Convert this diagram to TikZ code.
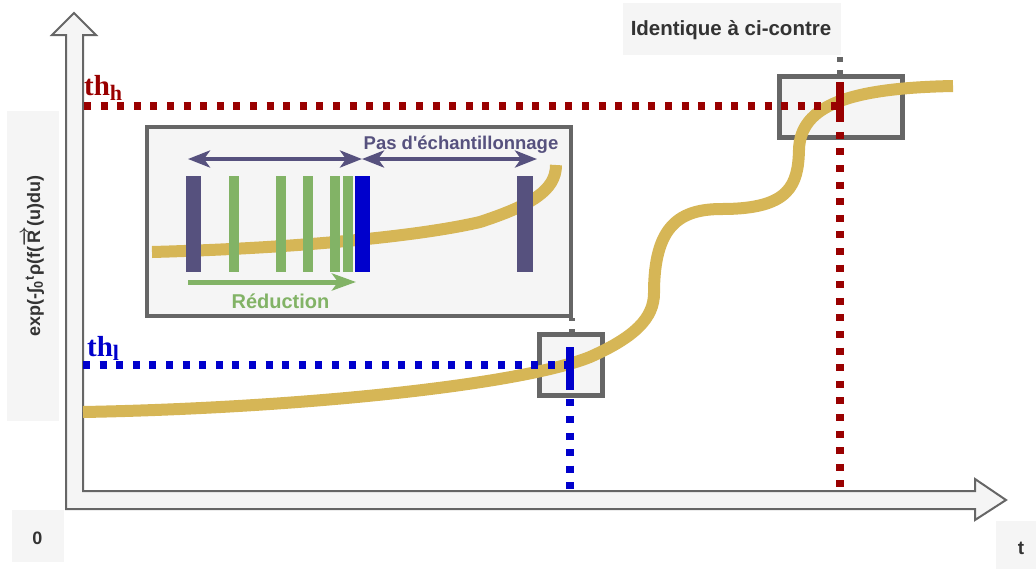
\documentclass[tikz,border=0pt]{standalone}
\usepackage{fontspec}
\setmainfont{Liberation Sans}
\newfontfamily\thfont{Liberation Serif}
\usetikzlibrary{arrows.meta}
\definecolor{cred}{HTML}{990000}
\definecolor{cblue}{HTML}{0000CC}
\definecolor{cgold}{HTML}{D6B656}
\definecolor{cpurple}{HTML}{56517E}
\definecolor{cgreen}{HTML}{82B366}
\definecolor{cstroke}{HTML}{666666}
\definecolor{cfill}{HTML}{F5F5F5}
\definecolor{ctext}{HTML}{333333}
\begin{document}
\begin{tikzpicture}[x=1pt,y=-1pt,
  lblbox/.style={fill=cfill, inner sep=0pt, draw=none},
  lbltext/.style={text=ctext, inner sep=0pt, font=\bfseries\fontsize{18}{20}\selectfont},
  frame/.style={draw=cstroke, fill=cfill, line width=5pt, inner sep=0pt},
  dots/.style={line width=7.5pt, dash pattern=on 7pt off 9.6pt},
  graydots/.style={cstroke, line width=5.5pt, dash pattern=on 5pt off 8pt},
  curve/.style={cgold, line width=12pt},
  thtext/.style={inner sep=0pt, font=\thfont\bfseries\fontsize{29}{30}\selectfont},
  dblarrow/.style={cpurple, line width=4pt, {Stealth[length=22pt,width=17pt,inset=6pt]}-{Stealth[length=22pt,width=17pt,inset=6pt]}},
  redarrow/.style={cgreen, line width=5pt, -{Stealth[length=24pt,width=17pt,inset=6pt]}}]
\useasboundingbox (0,0) rectangle (1036,568);

% label boxes
\node[lblbox, minimum width=52pt, minimum height=310pt] (ybox) at (33,266) {};
\node[lbltext, rotate=90] (ylabel) at (33,256) {exp(-∫\textsubscript{0}\textsuperscript{t}ρ(f($\boldmath\overrightarrow{\mbox{R}}$(u)du)};
\node[lblbox, minimum width=52pt, minimum height=52pt] (zbox) at (38,536) {};
\node[lbltext] (zero) at (37.5,538) {0};
\node[lblbox, minimum width=52pt, minimum height=52pt] (tbox) at (1022,547) {};
\node[lbltext, font=\bfseries\fontsize{19}{20}\selectfont] (tlab) at (1021,548) {t};
\node[lblbox, minimum width=218pt, minimum height=52pt] (idbox) at (732,29) {};
\node[lbltext, font=\bfseries\fontsize{20.5}{22}\selectfont] (idtext) at (731,30) {Identique à ci-contre};

% axes (block arrows)
\draw[cstroke, fill=cfill, line width=2pt, line join=miter]
  (66,35) -- (66,509) -- (975,509) -- (975,520) -- (1006,500) -- (975,479)
  -- (975,491) -- (83,491) -- (83,35) -- (96,35) -- (74,13) -- (52,35) -- cycle;

% boxes
\node[frame, minimum width=63pt, minimum height=61pt] (lowbox) at (571,365) {};
\node[frame, minimum width=123pt, minimum height=61pt] (highbox) at (841,107) {};

% main curve
\draw[curve] (83,412) .. controls (300,408) and (520,385) .. (590,357)
  .. controls (635,337) and (654,318) .. (654,293)
  .. controls (654,225) and (680,209) .. (722,209)
  .. controls (790,209) and (798,185) .. (799,150)
  .. controls (800,105) and (850,88) .. (953,86);

% threshold labels
\node[thtext, text=cred, anchor=base west] (thh) at (84,95) {th\raisebox{-5pt}{\fontsize{22}{22}\selectfont h}};
\node[thtext, text=cblue, anchor=base west] (thl) at (87,356) {th\raisebox{-4pt}{\fontsize{22}{22}\selectfont l}};

% dotted lines
\coordinate (rh0) at (84,106);
\coordinate (rv0) at (840,82);
\coordinate (rv1) at (840,490);
\coordinate (bh0) at (83,365);
\coordinate (bv0) at (570,349.5);
\coordinate (bv1) at (570,490);
\draw[dots, cred] (rh0) -- (rh0 -| rv0);
\draw[dots, cred] (rv0) -- (rv1);
\draw[dots, cblue] (bh0) -- (bh0 -| bv0);
\draw[dots, cblue] (bv0) -- (bv1);
\fill[cred] (836,82) rectangle (844,122);
\fill[cblue] (566,347) rectangle (574,383);

% inset
\node[frame, line width=4pt, minimum width=424pt, minimum height=189pt] (inset) at (359,221.5) {};
\draw[graydots, dash phase=11pt] (idbox.south -| rv0) -- (highbox.north -| rv0);
\draw[graydots, dash phase=2pt] (inset.south east) ++(-1,0) coordinate (gc0) -- (gc0 |- lowbox.north);

\draw[curve] (152,252) .. controls (300,248) and (420,236) .. (480,222)
  .. controls (532,205) and (556,190) .. (556,165);
\fill[cpurple] (186,176) rectangle (201,272);
\fill[cgreen] (229,176) rectangle (239,272);
\fill[cgreen] (276,176) rectangle (286,272);
\fill[cgreen] (303,176) rectangle (313,272);
\fill[cgreen] (330,176) rectangle (340,272);
\fill[cgreen] (343,176) rectangle (353,272);
\fill[cblue] (355,176) rectangle (370,272);
\fill[cpurple] (517,176) rectangle (533,272);

\coordinate (a0) at (188,159);
\coordinate (a1) at (362,159);
\coordinate (a2) at (537,159);
\draw[dblarrow] (a0) -- (a1);
\draw[dblarrow] (a1) -- (a2);
\coordinate (g0) at (188,282);
\coordinate (g1) at (356,282);
\draw[redarrow] (g0) -- (g1);
\node[inner sep=0pt, anchor=base, text=cpurple, font=\bfseries\fontsize{18.5}{20}\selectfont] (pas) at (461,149) {Pas d\textquotesingle échantillonnage};
\node[inner sep=0pt, anchor=base, text=cgreen, font=\bfseries\fontsize{20}{22}\selectfont] (red) at (280.5,308) {Réduction};
\end{tikzpicture}
\end{document}
